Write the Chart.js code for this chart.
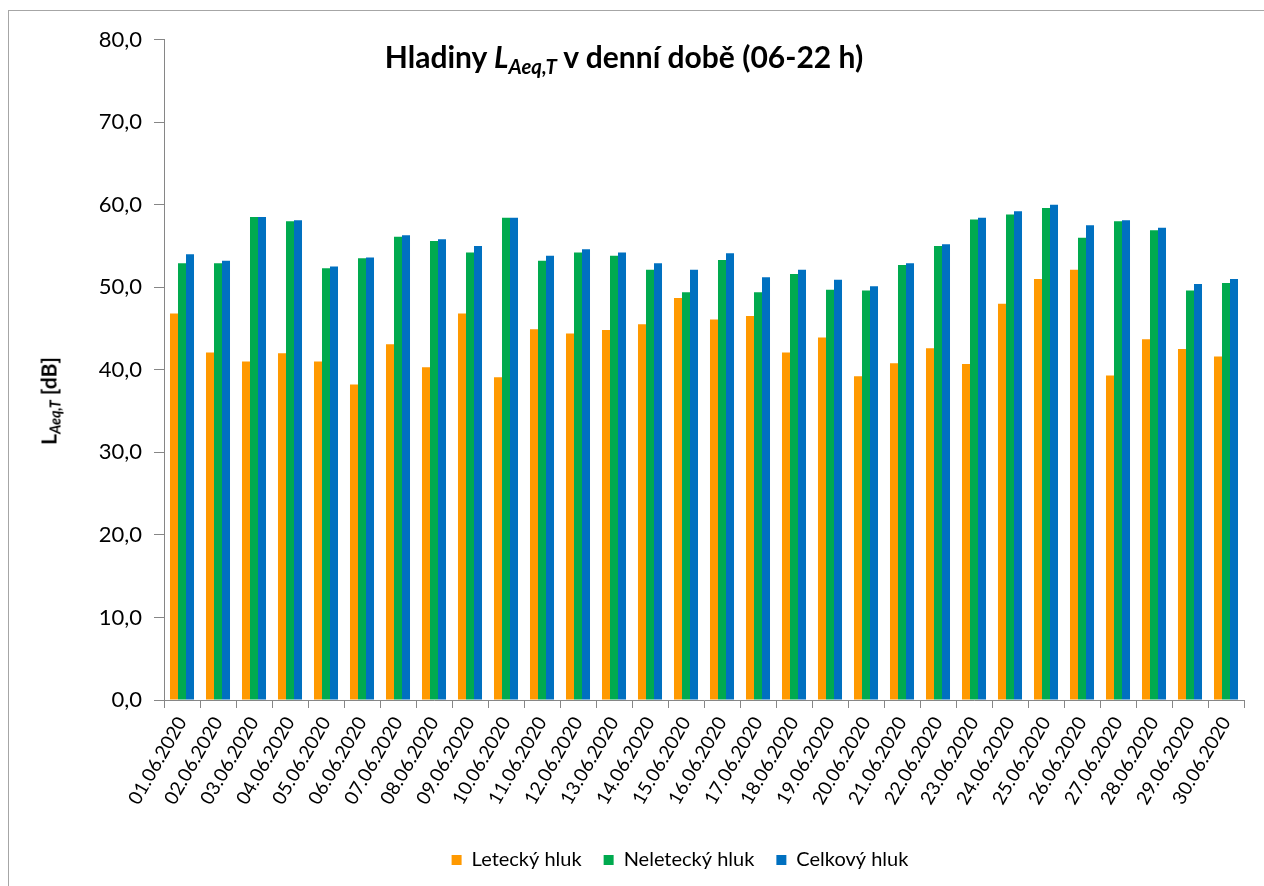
<!DOCTYPE html>
<html><head><meta charset="utf-8">
<script src="https://cdn.jsdelivr.net/npm/chart.js@4/dist/chart.umd.min.js"></script>
<style>
html,body{margin:0;padding:0;background:#fff;overflow:hidden}
#wrap{position:relative;width:1264px;height:886px;font-family:Lato,"Open Sans",sans-serif;color:#000}
#frame{position:absolute;left:8px;top:10px;width:1300px;height:900px;border:1px solid #a6a6a6;box-sizing:border-box}
#c{position:absolute;left:0;top:0}
#title{position:absolute;left:0;width:1248px;top:38px;text-align:center;font-weight:bold;font-size:30px;white-space:nowrap}
#ytitle{position:absolute;left:48px;top:401px;transform:translate(-50%,-50%) rotate(-90deg);white-space:nowrap;font-weight:bold;font-size:21px}
sub{font-size:0.68em;vertical-align:-0.3em;line-height:0}
</style></head>
<body><div id="wrap">
<div id="frame"></div>
<canvas id="c" width="1264" height="886"></canvas>
<div id="title">Hladiny <i>L<sub>Aeq,T</sub></i> v denní době (06-22 h)</div>
<div id="ytitle">L<sub><i>Aeq,T</i></sub> [dB]</div>
</div>
<script>
const categories = ['01.06.2020','02.06.2020','03.06.2020','04.06.2020','05.06.2020','06.06.2020','07.06.2020','08.06.2020','09.06.2020','10.06.2020',
 '11.06.2020','12.06.2020','13.06.2020','14.06.2020','15.06.2020','16.06.2020','17.06.2020','18.06.2020','19.06.2020','20.06.2020',
 '21.06.2020','22.06.2020','23.06.2020','24.06.2020','25.06.2020','26.06.2020','27.06.2020','28.06.2020','29.06.2020','30.06.2020'];
const letecky   = [46.8,42.1,41.0,42.0,41.0,38.2,43.1,40.3,46.8,39.1, 44.9,44.4,44.8,45.5,48.7,46.1,46.5,42.1,43.9,39.2, 40.8,42.6,40.7,48.0,51.0,52.1,39.3,43.7,42.5,41.6];
const neletecky = [52.9,52.9,58.5,58.0,52.3,53.5,56.1,55.6,54.2,58.4, 53.2,54.2,53.8,52.1,49.4,53.3,49.4,51.6,49.7,49.6, 52.7,55.0,58.2,58.8,59.6,56.0,58.0,56.9,49.6,50.5];
const celkovy   = [54.0,53.2,58.5,58.1,52.5,53.6,56.3,55.8,55.0,58.4, 53.8,54.6,54.2,52.9,52.1,54.1,51.2,52.1,50.9,50.1, 52.9,55.2,58.4,59.2,60.0,57.5,58.1,57.2,50.4,51.0];
const seriesNames = ['Letecký hluk','Neletecký hluk','Celkový hluk'];
const seriesColors = ['#FF9900','#00AA4F','#0070C0'];
const yMin = 0, yMax = 80, yStep = 10;

const legendShift = {id:'legendShift', afterLayout(chart){ const l = chart.legend; if (l) { l.left += 58; l.right += 58; } }};
const FONT = 'Lato';
new Chart(document.getElementById('c'), {
  type: 'bar',
  data: {
    labels: categories,
    datasets: [letecky, neletecky, celkovy].map((d, i) => ({
      label: seriesNames[i], data: d, backgroundColor: seriesColors[i], borderWidth: 0,
      categoryPercentage: 0.667, barPercentage: 1.0
    }))
  },
  options: {
    responsive: false, animation: false,
    layout: { padding: { top: 39.5, left: 0, right: 20, bottom: 6 } },
    plugins: {
      title: { display: false }, tooltip: { enabled: false },
      legend: { position: 'bottom', labels: { boxWidth: 10, boxHeight: 10, padding: 22, color: '#000', font: { family: FONT, size: 20 } } }
    },
    scales: {
      x: {
        grid: { display: true, drawOnChartArea: false, offset: true, tickLength: 8, color: '#868686', tickColor: '#868686' },
        border: { color: '#868686', width: 1 },
        ticks: { autoSkip: false, maxRotation: 60, minRotation: 60, padding: 5, color: '#000', font: { family: FONT, size: 19 } },
        afterFit(s) { s.height = 128; }
      },
      y: {
        min: yMin, max: yMax,
        grid: { display: true, drawOnChartArea: false, tickLength: 10, color: '#868686', tickColor: '#868686' },
        border: { color: '#868686', width: 1 },
        ticks: { stepSize: yStep, padding: 12, color: '#000', font: { family: FONT, size: 22 }, callback: v => v.toFixed(1).replace('.', ',') },
        afterFit(s) { s.width = 164; }
      }
    }
  },
  plugins: [legendShift]
});
</script>
</body></html>
